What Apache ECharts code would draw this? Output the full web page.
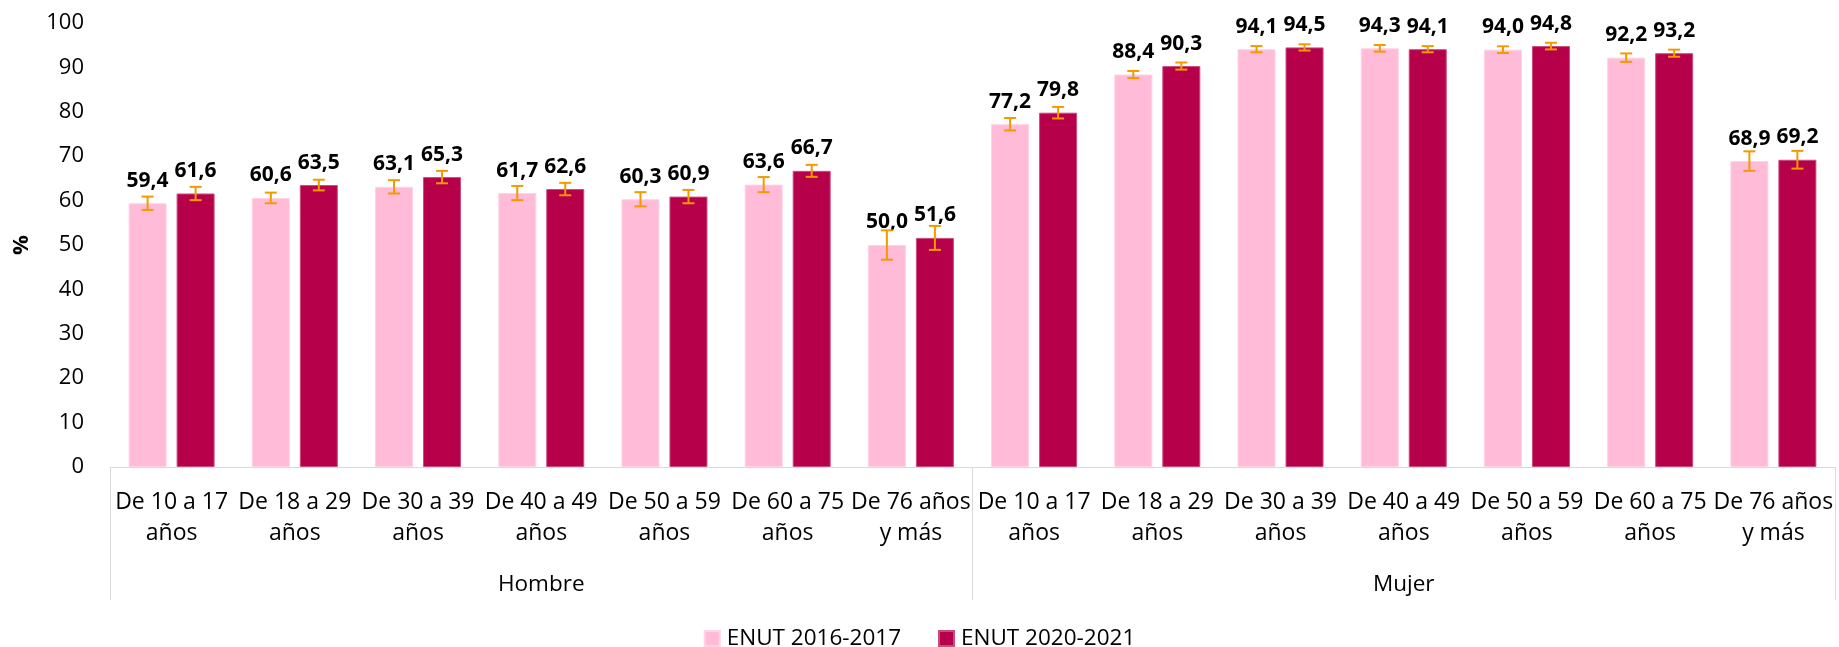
<!DOCTYPE html>
<html>
<head>
<meta charset="utf-8">
<script src="https://cdn.jsdelivr.net/npm/echarts@6/dist/echarts.min.js"></script>
<style>
html,body{margin:0;padding:0;background:#fff;}
#chart{width:1839px;height:647px;}
</style>
</head>
<body>
<div id="chart"></div>
<script>
const ageGroups = ['De 10 a 17\naños', 'De 18 a 29\naños', 'De 30 a 39\naños', 'De 40 a 49\naños', 'De 50 a 59\naños', 'De 60 a 75\naños', 'De 76 años\ny más'];
const sexGroups = ['Hombre', 'Mujer'];
const seriesNames = ['ENUT 2016-2017', 'ENUT 2020-2021'];
const values2016 = [59.4, 60.6, 63.1, 61.7, 60.3, 63.6, 50.0, 77.2, 88.4, 94.1, 94.3, 94.0, 92.2, 68.9];
const values2020 = [61.6, 63.5, 65.3, 62.6, 60.9, 66.7, 51.6, 79.8, 90.3, 94.5, 94.1, 94.8, 93.2, 69.2];
const err2016 = [1.5, 1.2, 1.5, 1.6, 1.6, 1.7, 3.3, 1.4, 0.8, 0.7, 0.75, 0.75, 0.95, 2.2];
const err2020 = [1.5, 1.2, 1.4, 1.4, 1.5, 1.35, 2.7, 1.3, 0.8, 0.7, 0.7, 0.75, 0.8, 2.0];
const yTicks = {min: 0, max: 100, interval: 10};

const categories = [];
sexGroups.forEach(() => ageGroups.forEach(a => categories.push(a)));

const FONT = 'Open Sans';
const BAR_W = 38;
const BAR_GAP = 10;
const OFFSET = (BAR_W + BAR_GAP) / 2;
const ERR_COLOR = '#F39A00';
const fmt = v => v.toFixed(1).replace('.', ',');

function errSeries(values, errs, dx) {
  return {
    type: 'custom',
    xAxisIndex: 0,
    z: 5,
    silent: true,
    data: values.map((v, i) => [i, v, errs[i]]),
    renderItem: function (params, api) {
      const i = api.value(0), v = api.value(1), e = api.value(2);
      const top = api.coord([i, v + e]);
      const bot = api.coord([i, v - e]);
      const x = top[0] + dx;
      const cap = 6;
      const style = {stroke: ERR_COLOR, lineWidth: 2};
      return {
        type: 'group',
        children: [
          {type: 'line', shape: {x1: x, y1: top[1], x2: x, y2: bot[1]}, style: style},
          {type: 'line', shape: {x1: x - cap, y1: top[1], x2: x + cap, y2: top[1]}, style: style},
          {type: 'line', shape: {x1: x - cap, y1: bot[1], x2: x + cap, y2: bot[1]}, style: style}
        ]
      };
    }
  };
}

const barLabel = {
  show: true,
  position: 'top',
  distance: 12,
  fontFamily: FONT,
  fontSize: 21,
  fontWeight: 'bold',
  color: '#000',
  formatter: p => fmt(p.value)
};

const chart = echarts.init(document.getElementById('chart'), null, {renderer: 'canvas'});
chart.setOption({
  animation: false,
  textStyle: {fontFamily: FONT},
  grid: {left: 110, right: 4, top: 23, bottom: 180, containLabel: false, outerBoundsMode: 'none'},
  legend: {
    data: seriesNames,
    top: 627,
    left: 'center',
    padding: 0,
    icon: 'rect',
    itemWidth: 15,
    itemHeight: 15,
    itemGap: 37,
    textStyle: {fontFamily: FONT, fontSize: 22.5, color: '#000', padding: [0, 0, 0, 2]}
  },
  xAxis: [
    {
      type: 'category',
      data: categories,
      position: 'bottom',
      axisLine: {show: true, lineStyle: {color: '#D9D9D9', width: 1}},
      axisTick: {show: false},
      axisLabel: {interval: 0, margin: 20, fontFamily: FONT, fontSize: 23, lineHeight: 31, color: '#000'}
    },
    {
      type: 'category',
      data: sexGroups,
      position: 'bottom',
      offset: 0,
      axisLine: {show: false},
      axisTick: {show: true, interval: 0, length: 133, lineStyle: {color: '#D9D9D9', width: 1}},
      axisLabel: {interval: 0, margin: 106, fontFamily: FONT, fontSize: 22.5, color: '#000'}
    }
  ],
  yAxis: {
    type: 'value',
    min: yTicks.min,
    max: yTicks.max,
    interval: yTicks.interval,
    name: '%',
    nameLocation: 'middle',
    nameGap: 77,
    nameRotate: 90,
    nameTextStyle: {fontFamily: FONT, fontSize: 22, fontWeight: 'bold', color: '#000'},
    axisLine: {show: false},
    axisTick: {show: false},
    splitLine: {show: false},
    axisLabel: {margin: 26, fontFamily: FONT, fontSize: 22, color: '#000'}
  },
  series: [
    {
      name: seriesNames[0],
      type: 'bar',
      xAxisIndex: 0,
      data: values2016,
      barWidth: BAR_W,
      barGap: (BAR_GAP / BAR_W * 100).toFixed(1) + '%',
      itemStyle: {color: '#FFBBD7', borderColor: '#FFD3E5', borderWidth: 1},
      label: barLabel
    },
    {
      name: seriesNames[1],
      type: 'bar',
      xAxisIndex: 0,
      data: values2020,
      barWidth: BAR_W,
      barGap: (BAR_GAP / BAR_W * 100).toFixed(1) + '%',
      itemStyle: {color: '#B7004A', borderColor: '#C94C7E', borderWidth: 1},
      label: barLabel
    },
    errSeries(values2016, err2016, -OFFSET),
    errSeries(values2020, err2020, OFFSET)
  ]
});
</script>
</body>
</html>
